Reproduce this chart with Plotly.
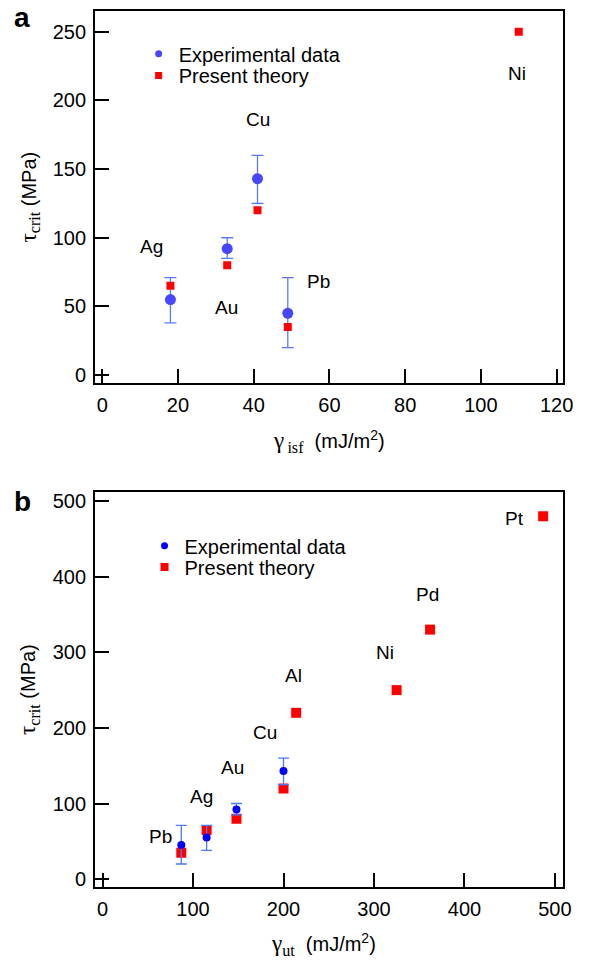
import plotly.graph_objects as go

# ---------------- data ----------------
exp_elements = ["Ag", "Au", "Cu", "Pb"]
exp_isf = [18, 33, 41, 49]
exp_ut = [115, 148, 200, 87]
exp_tau = [55, 92, 143, 45]
exp_tau_hi = [71, 100, 160, 71]
exp_tau_lo = [38, 85, 125, 20]

th_a_elements = ["Ag", "Au", "Cu", "Pb", "Ni"]
th_a_isf = [18, 33, 41, 49, 110]
th_a_tau = [65, 80, 120, 35, 250]

th_b_elements = ["Pb", "Ag", "Au", "Cu", "Al", "Ni", "Pd", "Pt"]
th_b_ut = [87, 115, 148, 200, 214, 325, 362, 487]
th_b_tau = [35, 65, 80, 120, 220, 250, 330, 480]

# label anchor positions (data units)
lab_a_text = ["Ag", "Au", "Cu", "Pb", "Ni"]
lab_a_x = [13, 32.7, 41.2, 57, 109.6]
lab_a_y = [93.5, 49, 186, 68, 220]

lab_b_text = ["Pb", "Ag", "Au", "Cu", "Al", "Ni", "Pd", "Pt"]
lab_b_x = [64, 109.6, 144, 180, 210.5, 312, 359.5, 455]
lab_b_y = [56, 109, 148, 194, 269, 300, 377, 477]

x_a_ticks = [0, 20, 40, 60, 80, 100, 120]
y_a_ticks = [0, 50, 100, 150, 200, 250]
x_b_ticks = [0, 100, 200, 300, 400, 500]
y_b_ticks = [0, 100, 200, 300, 400, 500]

W, H = 594, 967
SANS = "Liberation Sans, Arial, sans-serif"
TICK_SIZE = 20
LAB_SIZE = 19
TITLE_SIZE = 20
LEG_SIZE = 20


def px_x(p):
    return p / W


def px_y(p):
    return 1 - p / H


err_p = [h - v for h, v in zip(exp_tau_hi, exp_tau)]
err_m = [v - l for l, v in zip(exp_tau_lo, exp_tau)]

fig = go.Figure()

# ---- panel a ----
fig.add_trace(go.Scatter(
    x=exp_isf, y=exp_tau, mode="markers", name="Experimental data", showlegend=False,
    marker=dict(symbol="circle", size=11, color="#4646ff"),
    error_y=dict(type="data", array=err_p, arrayminus=err_m, color="#5a78ff",
                 thickness=1.3, width=6),
    xaxis="x", yaxis="y"))
fig.add_trace(go.Scatter(
    x=th_a_isf, y=th_a_tau, mode="markers", name="Present theory", showlegend=False,
    marker=dict(symbol="square", size=8, color="#ff0000"),
    xaxis="x", yaxis="y"))

# ---- panel b (theory under experiment) ----
fig.add_trace(go.Scatter(
    x=th_b_ut, y=th_b_tau, mode="markers", name="Present theory", showlegend=False,
    marker=dict(symbol="square", size=10, color="#ff0000"),
    xaxis="x2", yaxis="y2"))
fig.add_trace(go.Scatter(
    x=exp_ut, y=exp_tau, mode="markers", name="Experimental data", showlegend=False,
    marker=dict(symbol="circle", size=8, color="#0000ff"),
    error_y=dict(type="data", array=err_p, arrayminus=err_m, color="#4a78ff",
                 thickness=1.3, width=5.5),
    xaxis="x2", yaxis="y2"))

# ---- legend entries (one legend box per entry for exact spacing) ----
leg_entries = [
    ("Experimental data", "circle", 7, "#4646ff", "legend", "x", "y"),
    ("Present theory", "square", 7, "#ff0000", "legend2", "x", "y"),
    ("Experimental data", "circle", 7, "#0000ff", "legend3", "x2", "y2"),
    ("Present theory", "square", 8, "#ff0000", "legend4", "x2", "y2"),
]
for name, sym, sz, col, lg, xa, ya in leg_entries:
    fig.add_trace(go.Scatter(
        x=[None], y=[None], mode="markers", name=name, showlegend=True,
        marker=dict(symbol=sym, size=sz, color=col), legend=lg, xaxis=xa, yaxis=ya))

axis_common = dict(
    showline=True, linecolor="black", linewidth=2, mirror=True,
    ticks="inside", ticklen=14, tickwidth=2, tickcolor="black",
    showgrid=False, zeroline=False,
    tickfont=dict(family=SANS, size=TICK_SIZE, color="black"),
)


def leg(xp, yp):
    return dict(x=px_x(xp), y=px_y(yp), xanchor="left", yanchor="top",
                bgcolor="rgba(0,0,0,0)",
                font=dict(family=SANS, size=LEG_SIZE, color="black"))


xl, xr = px_x(96.7), px_x(572.7)
fig.update_layout(
    width=W, height=H,
    margin=dict(l=0, r=0, t=0, b=0),
    paper_bgcolor="white", plot_bgcolor="white",
    showlegend=True,
    xaxis=dict(domain=[xl, xr], range=[-1.9, 121.7], tickvals=x_a_ticks,
               anchor="y", ticklabelstandoff=3, **axis_common),
    yaxis=dict(domain=[px_y(382.7), px_y(9)], range=[-5.6, 265.2], tickvals=y_a_ticks,
               anchor="x", ticklabelstandoff=3, **axis_common),
    xaxis2=dict(domain=[xl, xr], range=[-8.3, 509], tickvals=x_b_ticks,
                anchor="y2", ticklabelstandoff=3, **axis_common),
    yaxis2=dict(domain=[px_y(889.3), px_y(492.7)], range=[-10, 511.8], tickvals=y_b_ticks,
                anchor="x2", ticklabelstandoff=3, **axis_common),
    legend=leg(141, 32.4),
    legend2=leg(141, 54.4),
    legend3=leg(147, 527),
    legend4=leg(147, 548.4),
)

annotations = []
for t, x, y in zip(lab_a_text, lab_a_x, lab_a_y):
    annotations.append(dict(x=x, y=y, xref="x", yref="y", text=t, showarrow=False,
                            xanchor="center", yanchor="middle",
                            font=dict(family=SANS, size=LAB_SIZE, color="black")))
for t, x, y in zip(lab_b_text, lab_b_x, lab_b_y):
    annotations.append(dict(x=x, y=y, xref="x2", yref="y2", text=t, showarrow=False,
                            xanchor="center", yanchor="middle",
                            font=dict(family=SANS, size=LAB_SIZE, color="black")))

ytitle = ("<span style=\"font-family:'Liberation Serif';font-size:23px\">τ"
          "<sub>crit</sub></span>\u00a0(MPa)")
xtitle_a = ("<span style=\"font-family:'Liberation Serif';font-size:23px\">γ"
            "<sub>\u2009isf</sub></span>\u00a0\u00a0(mJ/m<sup>2</sup>)")
xtitle_b = ("<span style=\"font-family:'Liberation Serif';font-size:23px\">γ"
            "<sub>ut</sub></span>\u00a0\u00a0(mJ/m<sup>2</sup>)")

title_font = dict(family=SANS, size=TITLE_SIZE, color="black")
annotations += [
    dict(x=px_x(30), y=px_y(196), xref="paper", yref="paper", text=ytitle, textangle=-90,
         xanchor="center", yanchor="middle", showarrow=False, font=title_font),
    dict(x=px_x(30), y=px_y(691), xref="paper", yref="paper", text=ytitle, textangle=-90,
         xanchor="center", yanchor="middle", showarrow=False, font=title_font),
    dict(x=px_x(276), y=px_y(442), xref="paper", yref="paper", text=xtitle_a,
         xanchor="left", yanchor="middle", showarrow=False, font=title_font),
    dict(x=px_x(274), y=px_y(947), xref="paper", yref="paper", text=xtitle_b,
         xanchor="left", yanchor="middle", showarrow=False, font=title_font),
    dict(x=px_x(22.5), y=px_y(16), xref="paper", yref="paper", text="<b>a</b>",
         xanchor="center", yanchor="middle", showarrow=False,
         font=dict(family=SANS, size=28, color="black")),
    dict(x=px_x(23), y=px_y(502), xref="paper", yref="paper", text="<b>b</b>",
         xanchor="center", yanchor="middle", showarrow=False,
         font=dict(family=SANS, size=28, color="black")),
]
fig.update_layout(annotations=annotations)

fig.write_html(
    "out.html",
    config={"displayModeBar": False},
    post_script="document.body.style.margin='0px';document.body.style.padding='0px';",
)
